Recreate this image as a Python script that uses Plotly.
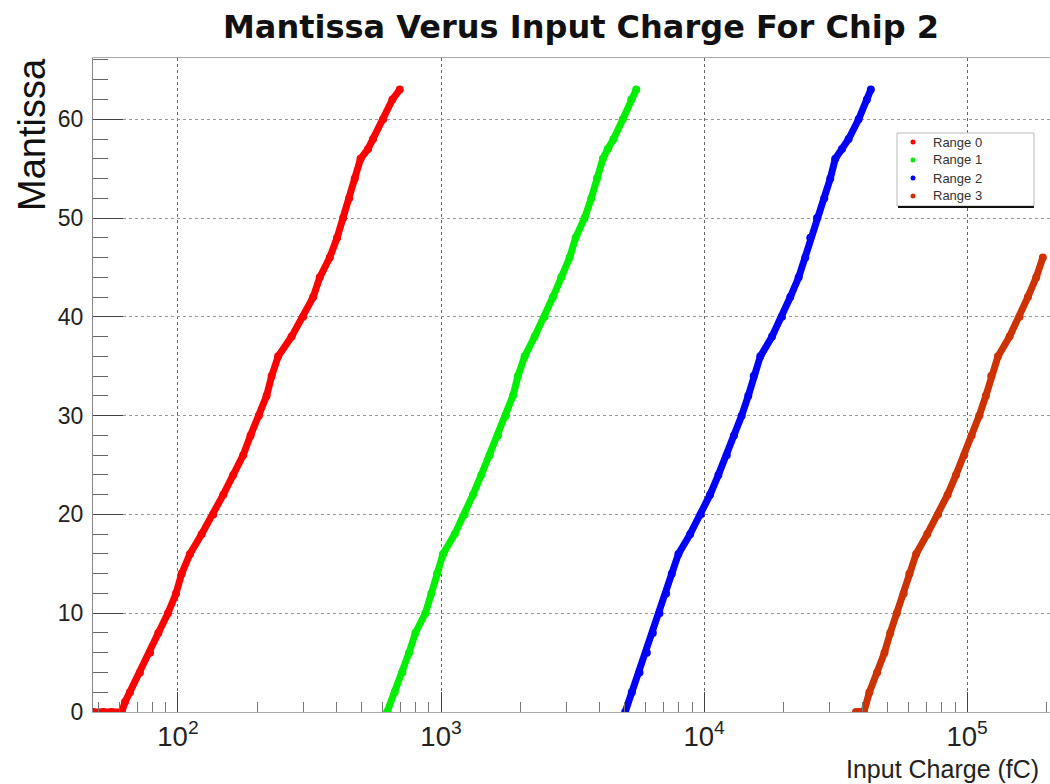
import plotly.graph_objects as go

# Mantissa codes and the input charge (fC) at which each code is reached
mant_r0 = [0, 0, 0, 0, 1, 2, 4, 6, 8, 10, 12, 14, 16, 18, 20, 22, 24, 26, 28, 30, 32, 34, 36,
           38, 40, 42, 44, 46, 48, 50, 52, 54, 56, 57, 58, 60, 62, 63]
charge_r0 = [47.6, 52, 56, 61.1, 62.9, 65.7, 71.7, 78.3, 84.2, 91.6, 98.3, 103.3, 111.1, 123,
             136.2, 148.7, 162.2, 177, 188.8, 203, 217.2, 227, 240.4, 270.4, 299.3, 326.6,
             346, 377.6, 402.7, 424.4, 447.7, 470, 494.3, 528, 551.6, 602.6, 653.6, 697]

mant_r1 = [0, 2, 4, 6, 8, 10, 12, 14, 16, 18, 20, 22, 24, 26, 28, 30, 32, 34, 36, 38, 40, 42,
           44, 46, 48, 50, 52, 54, 56, 57, 58, 60, 62, 63]
charge_r1 = [623.7, 667, 713, 756, 799, 872, 919, 966, 1018, 1127, 1230, 1323, 1423, 1531,
             1647, 1761, 1877, 1961, 2080, 2270, 2477, 2664, 2866, 3083, 3249, 3514, 3726,
             3913, 4124, 4306, 4528, 4911, 5286, 5522]

mant_r2 = [0, 2, 4, 6, 8, 10, 12, 14, 16, 18, 20, 22, 24, 26, 28, 30, 32, 34, 36, 38, 40, 42,
           44, 46, 48, 50, 52, 54, 56, 57, 58, 60, 62, 63]
charge_r2 = [5012, 5313, 5682, 6058, 6383, 6767, 7172, 7537, 7989, 8850, 9700, 10539, 11335,
             12192, 12996, 13900, 14723, 15441, 16362, 18128, 19781, 21270, 22888, 24253,
             25337, 26869, 28637, 30183, 31530, 33430, 35437, 38680, 41590, 43050]

mant_r3 = [0, 0, 0, 2, 4, 6, 8, 10, 12, 14, 16, 18, 20, 22, 24, 26, 28, 30, 32, 34, 36, 38,
           40, 42, 44, 46]
charge_r3 = [37800, 39000, 40500, 42500, 45500, 48500, 51000, 54000, 57400, 60300, 64000,
             70500, 77500, 84300, 90700, 97500, 104000, 111200, 117800, 123500, 131000,
             145000, 158200, 170200, 183100, 194000]

series_names = ["Range 0", "Range 1", "Range 2", "Range 3"]
series_colors = ["#ff0000", "#00ee00", "#0000ff", "#cc3300"]
series_x = [charge_r0, charge_r1, charge_r2, charge_r3]
series_y = [mant_r0, mant_r1, mant_r2, mant_r3]

W, H = 1050, 784
L, R, T, B = 93, 0, 58, 72


def px(xp):
    """horizontal pixel -> paper fraction"""
    return (xp - L) / (W - L - R)


def py(yp):
    """vertical pixel -> paper fraction"""
    return (H - B - yp) / (H - T - B)


fig = go.Figure()

for name, col, xs, ys in zip(series_names, series_colors, series_x, series_y):
    fig.add_trace(go.Scatter(
        x=xs, y=ys, mode="lines+markers", name=name, showlegend=False,
        line=dict(color=col, width=7),
        marker=dict(color=col, size=8, symbol="circle"),
    ))

y_label_font = dict(family="Liberation Sans, Arial, sans-serif", size=23, color="#222222")
x_label_font = dict(family="Liberation Sans, Arial, sans-serif", size=22, color="#222222")

annotations = [
    dict(text="<b>Mantissa Verus Input Charge For Chip 2</b>",
         xref="paper", yref="paper", x=px(581), y=py(27),
         xanchor="center", yanchor="middle", showarrow=False,
         font=dict(family="DejaVu Sans, sans-serif", size=32, color="#111111")),
    dict(text="Mantissa", xref="paper", yref="paper", x=px(32), y=py(134),
         xanchor="center", yanchor="middle", textangle=-90, showarrow=False,
         font=dict(family="Liberation Sans, Arial, sans-serif", size=38, color="#111111")),
    dict(text="Input Charge (fC)", xref="paper", yref="paper", x=px(1041), y=py(769),
         xanchor="right", yanchor="middle", showarrow=False,
         font=dict(family="Liberation Sans, Arial, sans-serif", size=25, color="#222222")),
]

shapes = [
    # legend frame and its shadow
    dict(type="rect", xref="paper", yref="paper",
         x0=px(897), x1=px(1034), y0=py(206), y1=py(133),
         fillcolor="white", line=dict(color="#bbbbbb", width=1), layer="above"),
    dict(type="line", xref="paper", yref="paper",
         x0=px(898), x1=px(1034), y0=py(207), y1=py(207),
         line=dict(color="#111111", width=2), layer="above"),
]

# legend entries: a coloured dot followed by the series name
entry_rows = [142, 160, 178, 196]
for name, col, yr in zip(series_names, series_colors, entry_rows):
    shapes.append(dict(type="circle", xref="paper", yref="paper",
                       x0=px(910.5), x1=px(915.5), y0=py(yr + 2.5), y1=py(yr - 2.5),
                       fillcolor=col, line=dict(color=col, width=0), layer="above"))
    annotations.append(dict(text=name, xref="paper", yref="paper", x=px(931), y=py(yr),
                            xanchor="left", yanchor="middle", showarrow=False,
                            font=dict(family="Liberation Sans, Arial, sans-serif",
                                      size=13, color="#333333")))

fig.update_layout(
    width=W, height=H,
    margin=dict(l=L, r=R, t=T, b=B, pad=0),
    paper_bgcolor="white", plot_bgcolor="white",
    showlegend=False,
    xaxis=dict(
        type="log", range=[1.677, 5.315], dtick=1,
        exponentformat="power", showexponent="all",
        ticks="inside", ticklen=20, tickwidth=1, tickcolor="#444444",
        minor=dict(ticks="inside", ticklen=10, tickwidth=1, tickcolor="#777777",
                   dtick="D1", showgrid=False),
        showgrid=True, gridcolor="#666666", griddash="dot", gridwidth=1,
        showline=True, linecolor="#aaaaaa", linewidth=1, mirror=True,
        zeroline=False, tickfont=x_label_font, ticklabelstandoff=1,
    ),
    yaxis=dict(
        range=[0, 66.2], dtick=10,
        ticks="inside", ticklen=30, tickwidth=1, tickcolor="#444444",
        minor=dict(ticks="inside", ticklen=15, tickwidth=1, tickcolor="#666666",
                   dtick=2, showgrid=False),
        showgrid=True, gridcolor="#999999", griddash="dot", gridwidth=1,
        showline=True, linecolor="#888888", linewidth=1,
        zeroline=False, tickfont=y_label_font, ticklabelstandoff=4,
    ),
    annotations=annotations,
    shapes=shapes,
)

fig.write_html("out.html")
